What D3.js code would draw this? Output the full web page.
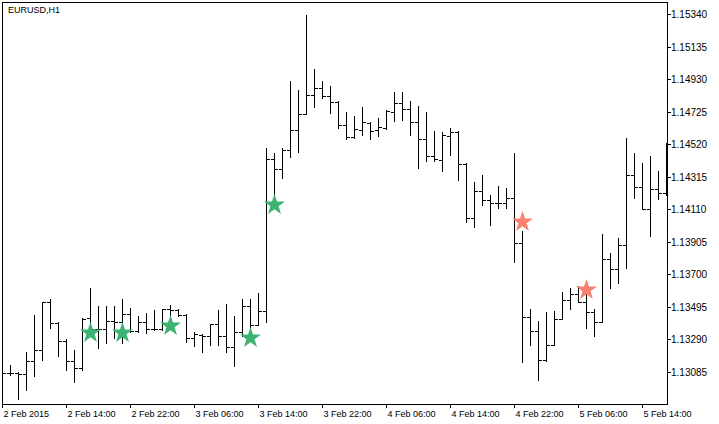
<!DOCTYPE html>
<html><head><meta charset="utf-8">
<script src="https://cdn.jsdelivr.net/npm/d3@7"></script>
<style>
body{margin:0;background:#fff}
svg{display:block}
text{font-family:"Liberation Sans",Arial,sans-serif;fill:#000}
</style>
</head><body>
<svg id="chart" width="719" height="424"></svg>
<script>
const symbolName = "EURUSD,H1";

// Hourly OHLC bars, 2 Feb 2015 06:00 onwards (index = bar number)
const open = [1.13078,1.13076,1.13077,1.13074,1.13156,1.13223,1.13523,1.13395,1.13280,1.13154,
1.13110,1.13422,1.13355,1.13355,1.13405,1.13403,1.13450,1.13345,1.13403,1.13355,
1.13354,1.13481,1.13473,1.13446,1.13299,1.13320,1.13313,1.13389,1.13313,1.13242,
1.13334,1.13502,1.13383,1.13471,1.14426,1.14363,1.14481,1.14611,1.14710,1.14832,
1.14874,1.14821,1.14786,1.14638,1.14565,1.14609,1.14655,1.14609,1.14625,1.14724,
1.14779,1.14741,1.14661,1.14552,1.14445,1.14422,1.14573,1.14594,1.14395,1.14057,
1.14227,1.14168,1.14149,1.14149,1.14184,1.13897,1.13431,1.13345,1.13162,1.13255,
1.13418,1.13538,1.13578,1.13527,1.13466,1.13400,1.13796,1.13733,1.13882,1.14326,
1.14250,1.14111,1.14237,1.14212];
const high = [1.13099,1.13131,1.13082,1.13214,1.13446,1.13526,1.13544,1.13397,1.13292,1.13225,
1.13423,1.13614,1.13502,1.13498,1.13498,1.13544,1.13486,1.13435,1.13456,1.13477,
1.13481,1.13508,1.13481,1.13450,1.13334,1.13324,1.13389,1.13477,1.13515,1.13435,
1.13546,1.13546,1.13582,1.14496,1.14464,1.14496,1.14920,1.14863,1.15336,1.14995,
1.14915,1.14888,1.14789,1.14720,1.14699,1.14756,1.14657,1.14685,1.14737,1.14846,
1.14846,1.14789,1.14762,1.14720,1.14600,1.14594,1.14625,1.14600,1.14401,1.14283,
1.14328,1.14202,1.14258,1.14247,1.14464,1.13975,1.13481,1.13408,1.13460,1.13471,
1.13590,1.13614,1.13624,1.13590,1.13481,1.13956,1.13834,1.13929,1.14559,1.14464,
1.14401,1.14447,1.14353,1.14527];
const low = [1.13061,1.13063,1.12918,1.12969,1.13061,1.13158,1.13360,1.13183,1.13096,1.13019,
1.13095,1.13320,1.13234,1.13267,1.13301,1.13269,1.13340,1.13340,1.13330,1.13351,
1.13351,1.13427,1.13439,1.13274,1.13246,1.13214,1.13252,1.13257,1.13211,1.13120,
1.13309,1.13351,1.13383,1.13403,1.14170,1.14307,1.14439,1.14468,1.14710,1.14754,
1.14811,1.14716,1.14625,1.14552,1.14559,1.14575,1.14552,1.14569,1.14615,1.14663,
1.14674,1.14580,1.14370,1.14411,1.14411,1.14348,1.14449,1.14292,1.14027,1.13998,
1.14134,1.14008,1.14121,1.14118,1.13781,1.13151,1.13252,1.13032,1.13156,1.13255,
1.13418,1.13481,1.13524,1.13362,1.13309,1.13400,1.13614,1.13645,1.13740,1.14184,
1.14111,1.13943,1.14174,1.14202];
const close = [1.13078,1.13076,1.13073,1.13156,1.13225,1.13523,1.13395,1.13280,1.13154,1.13110,
1.13420,1.13355,1.13355,1.13405,1.13403,1.13450,1.13345,1.13403,1.13354,1.13357,
1.13481,1.13473,1.13446,1.13299,1.13324,1.13313,1.13389,1.13313,1.13242,1.13334,
1.13502,1.13383,1.13471,1.14426,1.14363,1.14481,1.14611,1.14710,1.14832,1.14874,
1.14821,1.14786,1.14638,1.14565,1.14615,1.14661,1.14605,1.14628,1.14731,1.14779,
1.14741,1.14661,1.14552,1.14445,1.14426,1.14578,1.14594,1.14395,1.14057,1.14227,
1.14168,1.14149,1.14149,1.14184,1.13897,1.13431,1.13345,1.13162,1.13255,1.13418,
1.13538,1.13578,1.13527,1.13466,1.13400,1.13796,1.13733,1.13882,1.14326,1.14250,
1.14111,1.14237,1.14212,1.14485];

const xTickBars = [0,8,16,24,32,40,48,56,64,72,80];
const xTickLabels = ["2 Feb 2015","2 Feb 14:00","2 Feb 22:00","3 Feb 06:00","3 Feb 14:00",
  "3 Feb 22:00","4 Feb 06:00","4 Feb 14:00","4 Feb 22:00","5 Feb 06:00","5 Feb 14:00"];
const yTickValues = [1.13085,1.13290,1.13495,1.13700,1.13905,1.14110,1.14315,1.14520,1.14725,1.14930,1.15135,1.15340];

const buyBars = [11,15,21,31,34];
const buyPrices = [1.13328,1.13328,1.13376,1.13302,1.14139];
const sellBars = [65,73];
const sellPrices = [1.14027,1.13601];

const svg = d3.select("#chart");
const n = open.length;
const x = d3.scaleLinear().domain([0, n - 1]).range([2, 2 + 8 * (n - 1)]);
const y = d3.scaleLinear().domain([1.13085, 1.15340]).rangeRound([372, 14]);

svg.append("rect").attr("width",719).attr("height",424).attr("fill","#fff");

svg.append("defs").append("clipPath").attr("id","plot")
  .append("rect").attr("x",3).attr("y",3).attr("width",664).attr("height",401);

const g = svg.append("g").attr("clip-path","url(#plot)");
const bars = d3.range(n);
g.append("path")
  .attr("fill","none").attr("stroke","#000").attr("stroke-width",1)
  .attr("shape-rendering","crispEdges")
  .attr("d", bars.map(i => {
    const c = x(i), xc = c + 0.5;
    const yh = y(high[i]), yl = y(low[i]);
    const yo = y(open[i]) + 0.5, yc = y(close[i]) + 0.5;
    return `M${xc},${yh}V${yl + 1}M${c - 3},${yo}H${c}M${c + 1},${yc}H${c + 4}`;
  }).join(""));

function starPath(R, r) {
  const pts = [];
  for (let k = 0; k < 10; k++) {
    const a = -Math.PI / 2 + k * Math.PI / 5;
    const rr = k % 2 === 0 ? R : r;
    pts.push([rr * Math.cos(a), rr * Math.sin(a)]);
  }
  return "M" + pts.map(p => p[0].toFixed(2) + "," + p[1].toFixed(2)).join("L") + "Z";
}
const sp = starPath(11, 4.3);
g.selectAll(".buy").data(buyBars).join("path").attr("class","buy")
  .attr("d", sp).attr("fill","#3cb371")
  .attr("transform", (b, i) => `translate(${x(b) + 0.5},${y(buyPrices[i])})`);
g.selectAll(".sell").data(sellBars).join("path").attr("class","sell")
  .attr("d", sp).attr("fill","#fa8072")
  .attr("transform", (b, i) => `translate(${x(b) + 0.5},${y(sellPrices[i])})`);

// frame
svg.append("rect").attr("x",2.5).attr("y",2.5).attr("width",665).attr("height",402)
  .attr("fill","none").attr("stroke","#000").attr("shape-rendering","crispEdges");

// right price axis
const ya = svg.append("g").attr("transform","translate(667,0)")
  .call(d3.axisRight(y).tickValues(yTickValues).tickSize(4).tickPadding(0).tickFormat(d3.format(".5f")));
ya.select(".domain").remove();
ya.selectAll("line").attr("stroke","#000").attr("shape-rendering","crispEdges");
ya.selectAll("text").attr("x",4).attr("dy","0.33em")
  .style("font-family","'Liberation Sans',Arial,sans-serif").style("font-size","10px").attr("fill","#000");

// bottom time axis
const xa = svg.append("g").attr("transform","translate(0,404)")
  .call(d3.axisBottom(x).tickValues(xTickBars).tickSize(4)
    .tickFormat(d => xTickLabels[xTickBars.indexOf(d)]));
xa.select(".domain").remove();
xa.selectAll("line").attr("stroke","#000").attr("shape-rendering","crispEdges");
xa.selectAll("text").attr("text-anchor","start").attr("x",1).attr("y",13).attr("dy",null)
  .style("font-family","'Liberation Sans',Arial,sans-serif").style("font-size","9px").attr("fill","#000");

svg.append("text").attr("x",8).attr("y",13).style("font-size","9px").text(symbolName);
</script>
</body></html>
